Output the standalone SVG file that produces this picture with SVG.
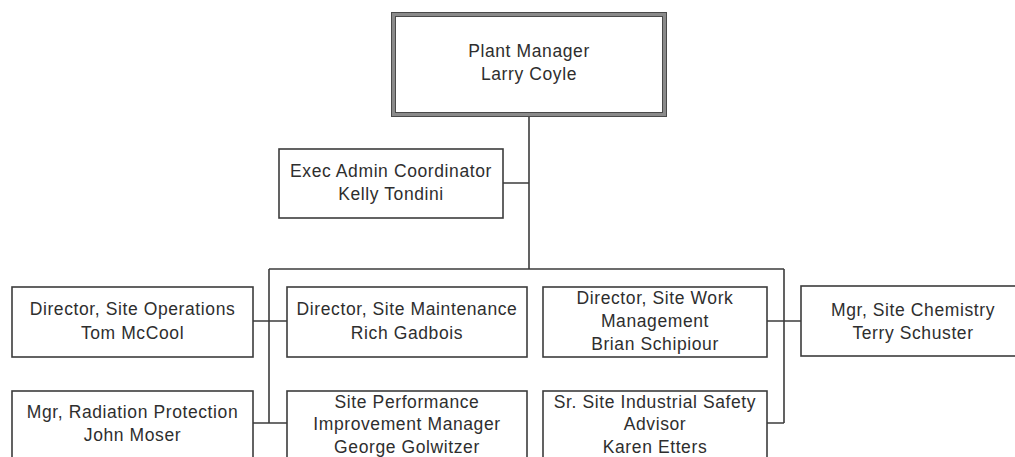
<svg xmlns="http://www.w3.org/2000/svg" width="1015" height="457" viewBox="0 0 1015 457">
<style>
.box{fill:#fff;stroke:#3c3c3c;stroke-width:1.6}
.top{fill:#fff;stroke:#8a8a8a;stroke-width:4}
.edge{fill:none;stroke:#4a4a4a;stroke-width:1}
.t{font-family:"Liberation Sans",Arial,sans-serif;font-size:17.5px;letter-spacing:0.6px;fill:#2e2e2e;text-anchor:middle}
.c{fill:none;stroke:#3c3c3c;stroke-width:1.6}
</style>
<rect width="1015" height="457" fill="#fff"/>
<g id="connectors">
<path class="c" d="M529,116 V269 M503,183 H529 M269,269 H784 M269,269 V423 M784,269 V423 M253,321 H287 M767,321 H801 M253,423 H287 M767,423 H784"/>
</g>
<g id="plant-manager">
<rect class="top" x="393" y="14" width="272" height="101"/>
<rect class="edge" x="391.5" y="12.5" width="275" height="104"/>
<rect class="edge" x="395.5" y="16.5" width="267" height="96"/>
<text class="t" x="529" y="57">Plant Manager</text>
<text class="t" x="529" y="80">Larry Coyle</text>
</g>
<g id="exec-admin">
<rect class="box" x="279" y="149" width="224" height="69"/>
<text class="t" x="391" y="177">Exec Admin Coordinator</text>
<text class="t" x="391" y="200">Kelly Tondini</text>
</g>
<g id="dir-ops">
<rect class="box" x="12" y="287" width="241" height="70"/>
<text class="t" x="132.5" y="315">Director, Site Operations</text>
<text class="t" x="132.5" y="339">Tom McCool</text>
</g>
<g id="dir-maint">
<rect class="box" x="287" y="287" width="240" height="70"/>
<text class="t" x="407" y="315">Director, Site Maintenance</text>
<text class="t" x="407" y="339">Rich Gadbois</text>
</g>
<g id="dir-work">
<rect class="box" x="543" y="287" width="224" height="70"/>
<text class="t" x="655" y="304">Director, Site Work</text>
<text class="t" x="655" y="327">Management</text>
<text class="t" x="655" y="350">Brian Schipiour</text>
</g>
<g id="mgr-chem">
<rect class="box" x="801" y="286" width="225" height="70"/>
<text class="t" x="913" y="316">Mgr, Site Chemistry</text>
<text class="t" x="913" y="339">Terry Schuster</text>
</g>
<g id="mgr-rad">
<rect class="box" x="12" y="391" width="241" height="80"/>
<text class="t" x="132.5" y="418">Mgr, Radiation Protection</text>
<text class="t" x="132.5" y="441">John Moser</text>
</g>
<g id="site-perf">
<rect class="box" x="287" y="391" width="240" height="80"/>
<text class="t" x="407" y="408">Site Performance</text>
<text class="t" x="407" y="430">Improvement Manager</text>
<text class="t" x="407" y="453">George Golwitzer</text>
</g>
<g id="safety">
<rect class="box" x="543" y="391" width="224" height="80"/>
<text class="t" x="655" y="408">Sr. Site Industrial Safety</text>
<text class="t" x="655" y="430">Advisor</text>
<text class="t" x="655" y="453">Karen Etters</text>
</g>
</svg>
